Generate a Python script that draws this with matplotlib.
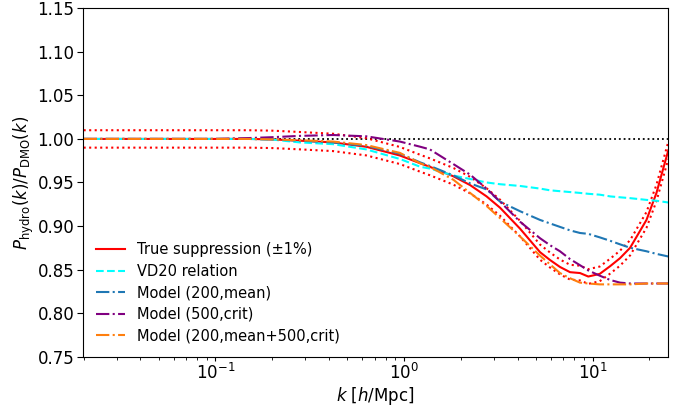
import numpy as np
import matplotlib
matplotlib.use('Agg')
import matplotlib.pyplot as plt

plt.rcParams['font.size'] = 12
plt.rcParams['legend.fontsize'] = 10.5
plt.rcParams['legend.frameon'] = False
plt.rcParams['xtick.major.size'] = 3.2
plt.rcParams['ytick.major.size'] = 4
plt.rcParams['xtick.minor.size'] = 2
plt.rcParams['xtick.major.pad'] = 1.5
plt.rcParams['ytick.major.pad'] = 2

# wavenumbers [h/Mpc]
k = [0.02, 0.05, 0.1, 0.15, 0.2, 0.28, 0.42, 0.63, 0.95, 1.22, 1.37, 1.83,
     2.24, 2.74, 3.23, 4.12, 5.26, 5.94, 6.71, 7.59, 8.57, 9.48, 10.9, 12.4,
     13.96, 15.8, 19.3, 21.8, 25.2]

true_supp = [1.000, 1.000, 1.000, 1.000, 0.9995, 0.998, 0.996, 0.991, 0.981,
             0.972, 0.968, 0.957, 0.947, 0.934, 0.921, 0.897, 0.870, 0.861,
             0.853, 0.847, 0.846, 0.842, 0.845, 0.854, 0.863, 0.875, 0.907,
             0.938, 0.987]

vd20 = [1.000, 1.000, 1.000, 1.000, 0.9993, 0.996, 0.994, 0.988, 0.977,
        0.968, 0.966, 0.958, 0.954, 0.950, 0.948, 0.946, 0.943, 0.941,
        0.940, 0.939, 0.938, 0.937, 0.936, 0.934, 0.933, 0.932, 0.930,
        0.929, 0.927]

model_200m = [1.000, 1.000, 1.000, 1.000, 0.9995, 0.998, 0.996, 0.992, 0.983,
              0.973, 0.969, 0.958, 0.949, 0.942, 0.928, 0.917, 0.907, 0.903,
              0.899, 0.895, 0.892, 0.891, 0.887, 0.883, 0.879, 0.875, 0.871,
              0.868, 0.865]

model_500c = [1.000, 1.000, 1.000, 1.001, 1.002, 1.0035, 1.0045, 1.003, 0.997,
              0.991, 0.988, 0.971, 0.959, 0.943, 0.928, 0.905, 0.886, 0.878,
              0.871, 0.862, 0.855, 0.849, 0.843, 0.838, 0.835, 0.834, 0.834,
              0.834, 0.834]

model_both = [1.000, 1.000, 1.000, 1.000, 0.9995, 0.9985, 0.997, 0.993, 0.984,
              0.972, 0.968, 0.953, 0.938, 0.923, 0.909, 0.888, 0.866, 0.856,
              0.846, 0.840, 0.835, 0.834, 0.833, 0.833, 0.833, 0.833, 0.834,
              0.834, 0.834]

k = np.array(k)
true_supp = np.array(true_supp)

fig, ax = plt.subplots(figsize=(6.9, 4.09), dpi=100)
fig.subplots_adjust(left=0.12, right=0.9686, top=0.9797, bottom=0.128)

ax.axhline(1.0, color='black', ls=':', lw=1.3, zorder=1)

ax.plot(k, true_supp, color='red', lw=1.5, label='True suppression (\u00b11%)')
ax.plot(k, true_supp * 1.01, color='red', ls=':', lw=1.5)
ax.plot(k, true_supp * 0.99, color='red', ls=':', lw=1.5)
ax.plot(k, vd20, color='cyan', ls='--', lw=1.5, label='VD20 relation')
ax.plot(k, model_200m, color='#1f77b4', ls='-.', lw=1.5, label='Model (200,mean)')
ax.plot(k, model_500c, color='purple', ls='-.', lw=1.5, label='Model (500,crit)')
ax.plot(k, model_both, color='#ff7f0e', ls='-.', lw=1.5, label='Model (200,mean+500,crit)')

ax.set_xscale('log')
ax.set_xlim(0.0198, 25.2)
ax.set_ylim(0.75, 1.15)
yt = np.arange(0.75, 1.151, 0.05)
ax.set_yticks(yt)
ax.set_yticklabels(['%.2f' % v for v in yt])

ax.set_xlabel(r'$k$ [$h$/Mpc]', labelpad=1)
ax.set_ylabel(r'$P_{\rm hydro}(k)/P_{\rm DMO}(k)$', labelpad=1)
ax.legend(loc='lower left', labelspacing=0.45)

plt.savefig('out.png', dpi=100)
